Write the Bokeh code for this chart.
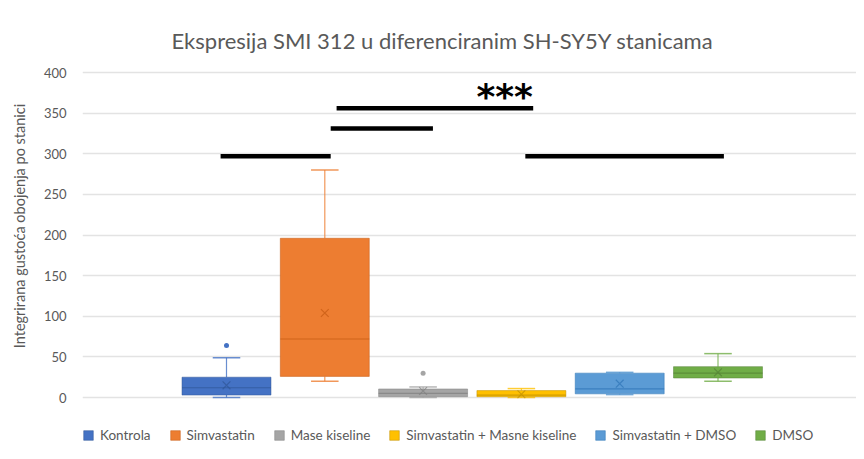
from bokeh.plotting import figure
from bokeh.models import Legend, LegendItem, FixedTicker, Range1d, ColumnDataSource
from bokeh.core.properties import value
from bokeh.embed import file_html
from bokeh.resources import INLINE

# ---- data ----
groups = ["Kontrola", "Simvastatin", "Mase kiseline", "Simvastatin + Masne kiseline",
          "Simvastatin + DMSO", "DMSO"]
positions = [1, 2, 3, 4, 5, 6]
q1 = [3, 26, 1, 1, 4.5, 24]
median = [12, 72, 5, 3, 10.5, 30]
q3 = [25, 196, 10.5, 8.5, 30, 38]
whisker_lo = [0, 20, 0, 0, 3.5, 20]
whisker_hi = [49, 280, 13, 11, 31, 54]
means = [15, 104, 8, 4, 17, 31]
outlier_group = [1, 3]
outlier_values = [64, 30]

colors = ["#4472C4", "#ED7D31", "#A5A5A5", "#FFC000", "#5B9BD5", "#70AD47"]
dark = ["#2F5597", "#C55A11", "#7F7F7F", "#BF9000", "#2E75B6", "#548235"]

sig_x0 = [0.94, 2.06, 2.12, 4.04]
sig_x1 = [2.06, 3.10, 4.12, 6.06]
sig_y = [297, 331, 356, 297]
star_x = [3.83]
star_y = [370]
star_text = ["***"]

y_ticks = [0, 50, 100, 150, 200, 250, 300, 350, 400]
title_text = "Ekspresija SMI 312 u diferenciranim SH-SY5Y stanicama"
y_label = "Integrirana gustoća obojenja po stanici"

# ---- layout ----
W, H = 856, 451
FRAME_LEFT = 82
ZERO_PX, TOP_PX = 397, 72          # pixel rows of value 0 and 400
ppu = (ZERO_PX - TOP_PX) / 400.0   # pixels per value unit
y_lo = -(H - ZERO_PX) / ppu
y_hi = 400 + TOP_PX / ppu
X0_PX, STEP_PX = 226, 98.3         # pixel column of first box centre, spacing
x_lo = 1 + (FRAME_LEFT - X0_PX) / STEP_PX
x_hi = 1 + (W - X0_PX) / STEP_PX

p = figure(width=W, height=H, output_backend="svg", toolbar_location=None,
           x_range=Range1d(x_lo, x_hi), y_range=Range1d(y_lo, y_hi),
           min_border_left=FRAME_LEFT, min_border_right=0, min_border_top=0, min_border_bottom=0)
p.outline_line_color = None
p.background_fill_color = "white"
p.border_fill_color = "white"

p.xaxis.visible = False
p.xgrid.grid_line_color = None
p.ygrid.grid_line_color = "#e3e3e3"
p.ygrid.grid_line_width = 1.5
p.yaxis.ticker = FixedTicker(ticks=y_ticks)
p.yaxis.axis_line_color = None
p.yaxis.major_tick_line_color = None
p.yaxis.minor_tick_line_color = None
p.yaxis.major_label_text_font = "Lato"
p.yaxis.major_label_text_font_size = "13px"
p.yaxis.major_label_text_color = "#595959"
p.yaxis.major_label_standoff = 10
p.yaxis.axis_label = y_label
p.yaxis.axis_label_text_font = "Lato"
p.yaxis.axis_label_text_font_style = "normal"
p.yaxis.axis_label_text_font_size = "14.5px"
p.yaxis.axis_label_text_color = "#595959"
p.yaxis.axis_label_standoff = 13

bw = 0.905
cap = 0.28
src = ColumnDataSource(dict(x=positions, q1=q1, q3=q3, med=median, lo=whisker_lo, hi=whisker_hi,
                            mean=means, color=colors, dark=dark,
                            c0=[x - cap / 2 for x in positions], c1=[x + cap / 2 for x in positions],
                            m0=[x - bw / 2 for x in positions], m1=[x + bw / 2 for x in positions]))

# whiskers
p.segment(x0="x", y0="q3", x1="x", y1="hi", source=src, line_color="color", line_width=1.2, line_alpha=0.8)
p.segment(x0="x", y0="q1", x1="x", y1="lo", source=src, line_color="color", line_width=1.2, line_alpha=0.8)
p.segment(x0="c0", y0="hi", x1="c1", y1="hi", source=src, line_color="color", line_width=1.5, line_alpha=0.8)
p.segment(x0="c0", y0="lo", x1="c1", y1="lo", source=src, line_color="color", line_width=1.5, line_alpha=0.8)

boxes = []
for i, g in enumerate(groups):
    r = p.vbar(x=[positions[i]], width=bw, top=[q3[i]], bottom=[q1[i]],
               fill_color=colors[i], line_color=dark[i], line_width=1, line_alpha=0.5)
    boxes.append(r)

p.segment(x0="m0", y0="med", x1="m1", y1="med", source=src, line_color="dark", line_width=1.2, line_alpha=0.7)
p.scatter(x="x", y="mean", source=src, marker="x", size=11, line_color="dark", line_width=1.2, line_alpha=0.7)
p.scatter(x=outlier_group, y=outlier_values, marker="circle", size=5,
          fill_color=[colors[g - 1] for g in outlier_group], line_color=None)

# significance bars
p.segment(x0=sig_x0, y0=sig_y, x1=sig_x1, y1=sig_y, line_color="black", line_width=4.5)
p.text(x=star_x, y=star_y, text=star_text, text_font=value("DejaVu Sans"), text_font_style="bold",
       text_font_size="36px", text_align="center", text_baseline="alphabetic", text_color="black")

# title (drawn inside the frame, which spans the whole canvas height)
title_x = 1 + (442 - X0_PX) / STEP_PX
title_y = (ZERO_PX - 40) / ppu
p.text(x=[title_x], y=[title_y], text=[title_text], text_font=value("Lato"),
       text_font_size="22px", text_color="#595959", text_align="center", text_baseline="middle")

legend = Legend(items=[LegendItem(label=g, renderers=[boxes[i]]) for i, g in enumerate(groups)],
                orientation="horizontal", location=(0, 8),
                label_text_font="Lato", label_text_font_size="13.5px", label_text_color="#595959",
                glyph_width=12, glyph_height=12, label_standoff=6, spacing=18,
                border_line_color=None, background_fill_alpha=0, padding=0, margin=0)
p.add_layout(legend, "center")

open("out.html", "w").write(file_html(p, INLINE))
